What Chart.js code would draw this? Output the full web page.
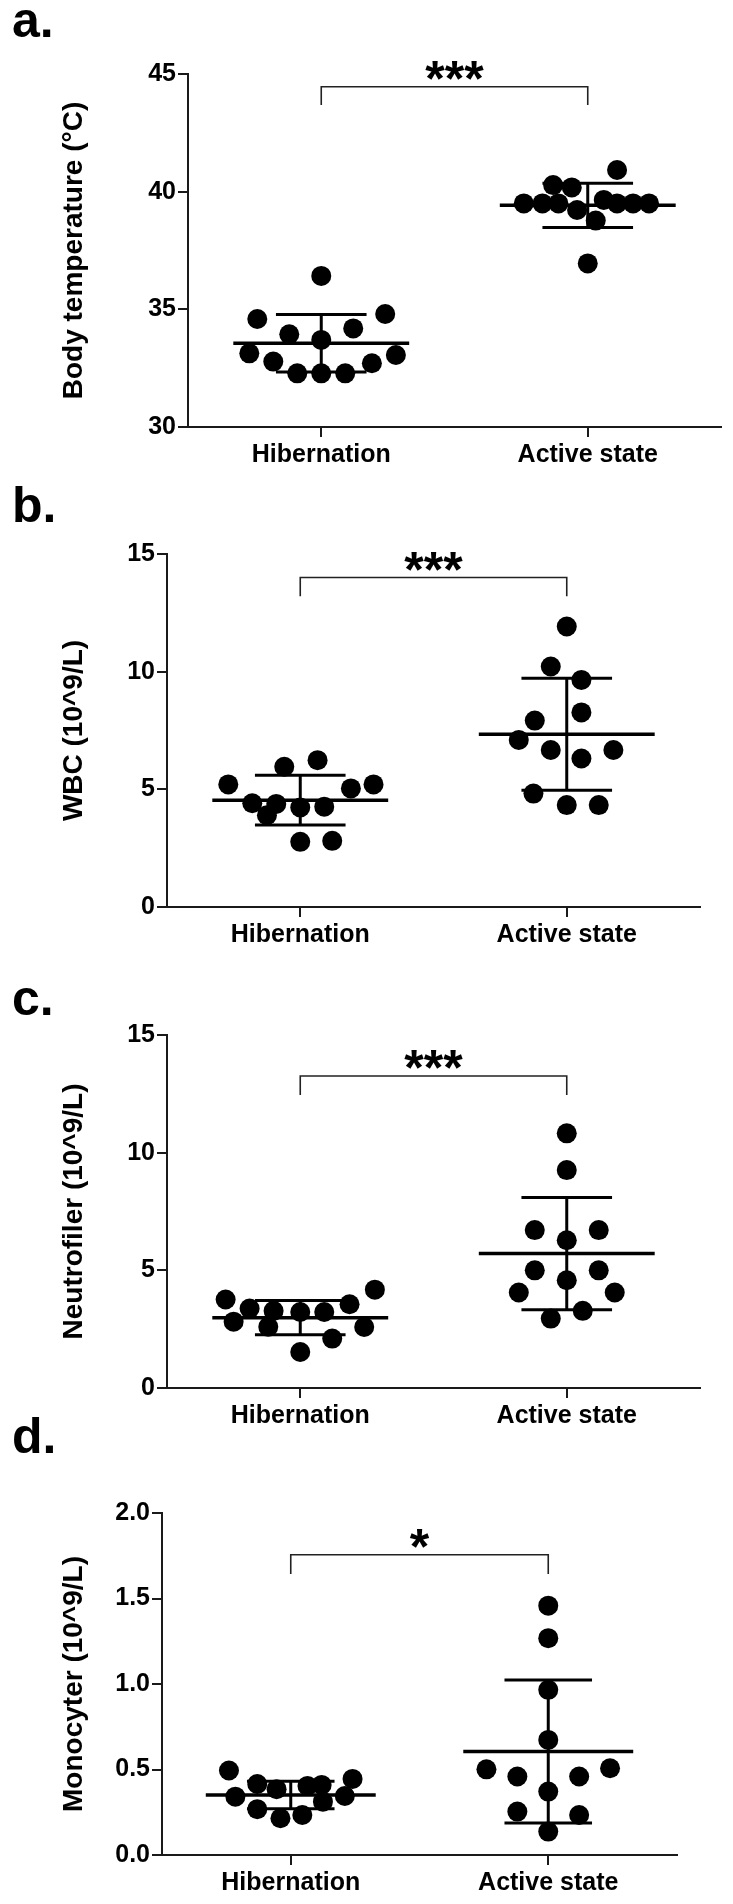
<!DOCTYPE html>
<html lang="en">
<head>
  <meta charset="UTF-8" />
  <title>Hibernation vs active state</title>
  <script src="https://cdn.jsdelivr.net/npm/chart.js"></script>
  <style>
    body {
      margin: 0;
      background: #fff;
      font-family: 'Liberation Sans', Arial, sans-serif;
    }
    #wrap {
      position: relative;
      width: 733px;
      height: 1904px;
      overflow: hidden;
    }
    #wrap canvas {
      position: absolute;
      left: 0;
    }
    .panel-letter {
      position: absolute;
      left: 12px;
      font-weight: bold;
      font-size: 50px;
      line-height: 50px;
      color: #000;
    }
  </style>
</head>
<body>
  <div id="wrap">
    <div class="panel-letter" style="top:-5px">a.</div>
    <div class="panel-letter" style="top:480px">b.</div>
    <div class="panel-letter" style="top:973px">c.</div>
    <div class="panel-letter" style="top:1411px">d.</div>
  </div>

  <script>
    const groups = ['Hibernation', 'Active state'];

    // a. body temperature (°C)
    const tempHib = [36.42, 34.59, 34.80, 33.94, 34.19, 33.70, 33.13, 33.06, 32.78, 32.71, 32.28, 32.28, 32.28];
    const tempHibJitter = [0, -0.24, 0.24, -0.12, 0.12, 0, -0.27, 0.28, -0.18, 0.19, -0.09, 0, 0.09];
    const tempAct = [40.92, 40.28, 40.18, 39.50, 39.50, 39.50, 39.22, 39.65, 39.50, 39.50, 39.50, 38.77, 36.95];
    const tempActJitter = [0.11, -0.13, -0.06, -0.24, -0.17, -0.11, -0.04, 0.06, 0.11, 0.17, 0.23, 0.03, 0];
    const tempMean = [33.56, 39.42];
    const tempSd = [1.22, 0.94];

    // b. WBC
    const wbcHib = [6.24, 5.96, 5.21, 5.21, 5.04, 4.41, 4.38, 4.23, 4.26, 3.90, 2.77, 2.81];
    const wbcHibJitter = [0.065, -0.06, -0.27, 0.275, 0.19, -0.18, -0.09, 0, 0.09, -0.125, 0, 0.12];
    const wbcAct = [11.92, 10.22, 9.65, 8.27, 7.92, 7.10, 6.67, 6.31, 6.67, 4.82, 4.33, 4.33];
    const wbcActJitter = [0, -0.06, 0.055, 0.055, -0.12, -0.18, -0.06, 0.055, 0.175, -0.125, 0, 0.12];
    const wbcMean = [4.54, 7.34];
    const wbcSd = [1.06, 2.38];

    // c. neutrofiler
    const neutHib = [3.76, 4.18, 3.56, 3.38, 3.28, 3.23, 3.23, 2.82, 2.59, 2.60, 2.10, 1.53];
    const neutHibJitter = [-0.28, 0.28, 0.185, -0.19, -0.10, 0, 0.09, -0.25, 0.24, -0.12, 0.12, 0];
    const neutAct = [10.82, 9.26, 6.71, 6.71, 6.28, 5.00, 5.00, 4.58, 4.06, 4.06, 3.28, 2.95];
    const neutActJitter = [0, 0, -0.12, 0.12, 0, -0.12, 0.12, 0, -0.18, 0.18, 0.06, -0.06];
    const neutMean = [2.99, 5.71];
    const neutSd = [0.73, 2.39];

    // d. monocyter
    const monoHib = [0.494, 0.445, 0.415, 0.385, 0.404, 0.41, 0.341, 0.345, 0.312, 0.268, 0.215, 0.234];
    const monoHibJitter = [-0.24, 0.24, -0.13, -0.055, 0.065, 0.12, -0.215, 0.21, 0.125, -0.13, -0.04, 0.045];
    const monoAct = [1.458, 1.268, 0.966, 0.673, 0.501, 0.507, 0.459, 0.459, 0.371, 0.254, 0.234, 0.137];
    const monoActJitter = [0, 0, 0, 0, -0.24, 0.24, -0.12, 0.12, 0, -0.12, 0.12, 0];
    const monoMean = [0.351, 0.605];
    const monoSd = [0.081, 0.418];

    const FONT = "'Liberation Sans', Arial, sans-serif";
    const INK = '#000';
    const AXIS = '#1a1a1a';

    function toPoints(values, jitter, groupIndex) {
      return values.map((v, i) => ({ x: groupIndex + 1 + jitter[i], y: v }));
    }

    // mean + SD bars, significance bracket and stars
    const statsPlugin = {
      id: 'stats',
      afterDatasetsDraw(chart, args, opts) {
        const { ctx, scales: { x, y } } = chart;
        const seg = (x1, y1, x2, y2) => {
          ctx.beginPath();
          ctx.moveTo(x1, y1);
          ctx.lineTo(x2, y2);
          ctx.stroke();
        };
        ctx.save();
        ctx.strokeStyle = INK;
        ctx.lineCap = 'butt';
        opts.means.forEach((m, i) => {
          const cx = i + 1;
          const sd = opts.sds[i];
          const px = x.getPixelForValue(cx);
          const yHi = y.getPixelForValue(m + sd);
          const yLo = y.getPixelForValue(m - sd);
          ctx.lineWidth = 3;
          seg(px, yHi, px, yLo);
          seg(x.getPixelForValue(cx - 0.17), yHi, x.getPixelForValue(cx + 0.17), yHi);
          seg(x.getPixelForValue(cx - 0.17), yLo, x.getPixelForValue(cx + 0.17), yLo);
          ctx.lineWidth = 3.5;
          const ym = y.getPixelForValue(m);
          seg(x.getPixelForValue(cx - 0.33), ym, x.getPixelForValue(cx + 0.33), ym);
        });

        const [top, leg] = opts.bracket;
        const bx1 = x.getPixelForValue(1), bx2 = x.getPixelForValue(2);
        const by = y.getPixelForValue(top), byLeg = y.getPixelForValue(leg);
        ctx.lineWidth = 1.6;
        ctx.strokeStyle = '#222';
        ctx.beginPath();
        ctx.moveTo(bx1, byLeg);
        ctx.lineTo(bx1, by);
        ctx.lineTo(bx2, by);
        ctx.lineTo(bx2, byLeg);
        ctx.stroke();

        ctx.fillStyle = INK;
        ctx.font = 'bold 50px ' + FONT;
        ctx.textAlign = 'center';
        ctx.textBaseline = 'alphabetic';
        ctx.fillText(opts.stars, (bx1 + bx2) / 2, by + 9);
        ctx.restore();
      }
    };

    function makePanel(cfg) {
      const canvas = document.createElement('canvas');
      const h = cfg.plotBottom - cfg.plotTop + 150;
      canvas.width = 733;
      canvas.height = h;
      canvas.style.top = (cfg.plotTop - 100) + 'px';
      document.getElementById('wrap').appendChild(canvas);

      new Chart(canvas, {
        type: 'scatter',
        data: {
          datasets: [
            { data: toPoints(cfg.hib, cfg.hibJitter, 0) },
            { data: toPoints(cfg.act, cfg.actJitter, 1) }
          ]
        },
        options: {
          responsive: false,
          animation: false,
          layout: { padding: { top: 100, left: 0, right: 733 - cfg.plotRight, bottom: 6 } },
          elements: {
            point: { radius: 10, hoverRadius: 10, backgroundColor: INK, borderWidth: 0 }
          },
          datasets: { scatter: { clip: false } },
          plugins: {
            legend: { display: false },
            tooltip: { enabled: false },
            stats: { means: cfg.mean, sds: cfg.sd, bracket: cfg.bracket, stars: cfg.stars }
          },
          scales: {
            x: {
              type: 'linear',
              min: 0.5,
              max: 2.5,
              afterBuildTicks: s => { s.ticks = [{ value: 1 }, { value: 2 }]; },
              afterFit: s => { s.height = 44; },
              border: { display: true, color: AXIS, width: 2 },
              grid: { display: true, drawOnChartArea: false, tickLength: 10, color: AXIS, lineWidth: 2 },
              ticks: {
                padding: 3,
                color: INK,
                font: { family: FONT, size: 25, weight: 'bold' },
                callback: v => groups[v - 1]
              }
            },
            y: {
              min: cfg.yMin,
              max: cfg.yMax,
              afterFit: s => { s.width = cfg.plotLeft; },
              border: { display: true, color: AXIS, width: 2 },
              grid: { display: true, drawOnChartArea: false, tickLength: 10, color: AXIS, lineWidth: 2 },
              ticks: {
                stepSize: cfg.yStep,
                padding: 2,
                color: INK,
                font: { family: FONT, size: 25, weight: 'bold' },
                callback: v => cfg.yDecimals ? v.toFixed(cfg.yDecimals) : String(v)
              },
              title: {
                display: true,
                text: cfg.yTitle,
                color: INK,
                font: { family: FONT, size: 28, weight: 'bold' },
                padding: { top: 57, bottom: 0 }
              }
            }
          }
        },
        plugins: [statsPlugin]
      });
    }

    makePanel({
      hib: tempHib, hibJitter: tempHibJitter, act: tempAct, actJitter: tempActJitter,
      mean: tempMean, sd: tempSd, bracket: [44.46, 43.68], stars: '***',
      yMin: 30, yMax: 45, yStep: 5, yTitle: 'Body temperature (°C)',
      plotTop: 74, plotBottom: 427, plotLeft: 188, plotRight: 721
    });
    makePanel({
      hib: wbcHib, hibJitter: wbcHibJitter, act: wbcAct, actJitter: wbcActJitter,
      mean: wbcMean, sd: wbcSd, bracket: [14.0, 13.2], stars: '***',
      yMin: 0, yMax: 15, yStep: 5, yTitle: 'WBC (10^9/L)',
      plotTop: 554, plotBottom: 907, plotLeft: 167, plotRight: 700
    });
    makePanel({
      hib: neutHib, hibJitter: neutHibJitter, act: neutAct, actJitter: neutActJitter,
      mean: neutMean, sd: neutSd, bracket: [13.26, 12.45], stars: '***',
      yMin: 0, yMax: 15, yStep: 5, yTitle: 'Neutrofiler (10^9/L)',
      plotTop: 1035, plotBottom: 1388, plotLeft: 167, plotRight: 700
    });
    makePanel({
      hib: monoHib, hibJitter: monoHibJitter, act: monoAct, actJitter: monoActJitter,
      mean: monoMean, sd: monoSd, bracket: [1.756, 1.643], stars: '*',
      yMin: 0, yMax: 2, yStep: 0.5, yDecimals: 1, yTitle: 'Monocyter (10^9/L)',
      plotTop: 1513, plotBottom: 1855, plotLeft: 162, plotRight: 677
    });
  </script>
</body>
</html>
